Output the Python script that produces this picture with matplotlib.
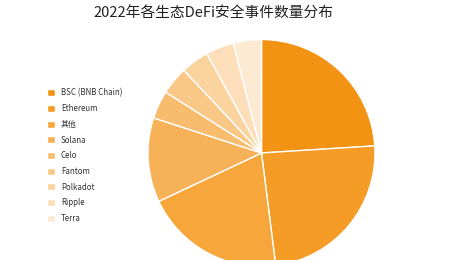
import matplotlib
matplotlib.use("Agg")
import matplotlib.pyplot as plt

plt.rcParams['font.family'] = ['Noto Sans CJK SC', 'DejaVu Sans']

title = "2022年各生态DeFi安全事件数量分布"
labels = ["BSC (BNB Chain)", "Ethereum", "其他", "Solana", "Celo", "Fantom", "Polkadot", "Ripple", "Terra"]
counts = [6, 6, 5, 3, 1, 1, 1, 1, 1]
colors = ["#F39314", "#F59C26", "#F6A63B", "#F7B157", "#F8BC6E", "#F9C886", "#FAD39F", "#FCDFBA", "#FDEAD3"]

W, H = 454, 260
fig = plt.figure(figsize=(W / 100, H / 100), dpi=100)

# pie axes: center (261.5, 153) px, radius 113.5 px
cx, cy, r = 261.5, 153.0, 113.5
ax = fig.add_axes([(cx - r) / W, (H - cy - r) / H, 2 * r / W, 2 * r / H])
wedges, _ = ax.pie(counts, colors=colors, startangle=90, counterclock=False,
                   radius=1.0, wedgeprops=dict(edgecolor="white", linewidth=1.0))
ax.set_xlim(-1, 1)
ax.set_ylim(-1, 1)
ax.set_aspect("equal")
ax.axis("off")

fig.text(213.5 / W, 1 - 14 / H, title, ha="center", va="center", fontsize=10.6, color="#222222")

leg = fig.legend(wedges, labels, loc="upper left",
                 bbox_to_anchor=(47 / W, 1 - 88.5 / H), bbox_transform=fig.transFigure,
                 frameon=False, fontsize=5.7, handlelength=1.0, handleheight=1.0,
                 handletextpad=0.75, labelspacing=0.84, borderaxespad=0, borderpad=0)
for t in leg.get_texts():
    t.set_color("#333333")

fig.savefig("out.png", dpi=100)
